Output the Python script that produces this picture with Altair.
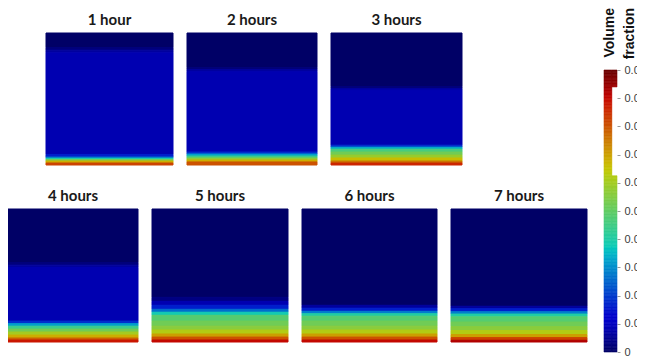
import altair as alt
import numpy as np
import pandas as pd

# ---- data: vertical profiles of volume fraction (height % : 100 = top, 0 = bottom)
titles = ["1 hour", "2 hours", "3 hours", "4 hours", "5 hours", "6 hours", "7 hours"]

edges_1 = [100, 89, 87, 85, 8, 6, 5, 4, 3, 1.5, 0]
vals_1 = [0, 0.0012, 0.003, 0.004, 0.008, 0.014, 0.02, 0.027, 0.034, 0.041]

edges_2 = [100, 73.7, 72.2, 70.7, 9.8, 8.3, 6.8, 5.3, 3.8, 2.3, 0]
vals_2 = [0, 0.0012, 0.003, 0.004, 0.009, 0.016, 0.022, 0.028, 0.034, 0.04]

edges_3 = [100, 59.4, 57.9, 56.8, 15, 13.5, 12, 9.8, 7.5, 5.3, 3, 1.5, 0]
vals_3 = [0, 0.0012, 0.003, 0.004, 0.009, 0.017, 0.023, 0.026, 0.029, 0.033, 0.038, 0.043]

edges_4 = [100, 59.7, 57.8, 56, 15.7, 13.8, 11.9, 9.7, 7.5, 5.2, 3, 1.5, 0]
vals_4 = [0, 0.0012, 0.003, 0.004, 0.009, 0.016, 0.022, 0.026, 0.03, 0.034, 0.039, 0.044]

edges_5 = [100, 33.6, 30.6, 27.6, 24.6, 22.4, 20.1, 15.7, 11.9, 9, 6, 3.7, 1.5, 0]
vals_5 = [0, 0.0015, 0.004, 0.008, 0.013, 0.019, 0.024, 0.026, 0.028, 0.031, 0.035, 0.04, 0.045]

edges_6 = [100, 27.6, 25.4, 23.1, 21.3, 19.4, 15.7, 11.9, 9, 6, 3.7, 1.5, 0]
vals_6 = [0, 0.003, 0.008, 0.014, 0.02, 0.024, 0.026, 0.028, 0.031, 0.035, 0.04, 0.045]

edges_7 = [100, 26.9, 25.0, 22.8, 21.0, 18.9, 15.0, 11.5, 8.6, 5.6, 3.3, 1.3, 0]
vals_7 = [0, 0.003, 0.008, 0.014, 0.02, 0.024, 0.026, 0.028, 0.031, 0.035, 0.041, 0.046]

colorbar_ticks = [0, 0.005, 0.01, 0.015, 0.02, 0.025, 0.03, 0.035, 0.04, 0.045, 0.05]
vmax = 0.05

# ---- jet colormap (matplotlib segment data); panels are shaded (darker) versions
seg_r = ([0, 0.35, 0.66, 0.89, 1], [0, 0, 1, 1, 0.5])
seg_g = ([0, 0.125, 0.375, 0.64, 0.91, 1], [0, 0, 1, 1, 0, 0])
seg_b = ([0, 0.11, 0.34, 0.65, 1], [0.5, 1, 1, 0, 0])
stops = np.linspace(0, 1, 41)


def jet_hex(t, k=1.0):
    r = np.interp(t, *seg_r) * k
    g = np.interp(t, *seg_g) * k
    b = np.interp(t, *seg_b) * k
    return "#%02x%02x%02x" % (int(round(r * 255)), int(round(g * 255)), int(round(b * 255)))


jet_domain = [float(s * vmax) for s in stops]
bar_scale = alt.Scale(domain=jet_domain, range=[jet_hex(s) for s in stops], clamp=True)
shade_scale = alt.Scale(domain=jet_domain, range=[jet_hex(s, 0.8) for s in stops], clamp=True)

profiles = [
    (edges_1, vals_1), (edges_2, vals_2), (edges_3, vals_3), (edges_4, vals_4),
    (edges_5, vals_5), (edges_6, vals_6), (edges_7, vals_7),
]

# inner sizes (a 1px seam-hiding stroke adds 1px to each)
widths = [127, 130, 131, 130, 136, 135, 136]
heights = [132, 132, 132, 133, 133, 133, 133]

TITLE_FONT = "Lato"


def panel(i):
    edges, vals = profiles[i]
    df = pd.DataFrame({
        "top": edges[:-1],
        "bot": edges[1:],
        "v": vals,
        "x0": 0.0,
        "x1": 1.0,
    })
    return alt.Chart(df).mark_rect(strokeWidth=1).encode(
        x=alt.X("x0:Q", scale=alt.Scale(domain=[0, 1], nice=False, zero=False), axis=None),
        x2="x1:Q",
        y=alt.Y("top:Q", scale=alt.Scale(domain=[0, 100], nice=False), axis=None),
        y2="bot:Q",
        color=alt.Color("v:Q", scale=shade_scale, legend=None),
        stroke=alt.Stroke("v:Q", scale=shade_scale, legend=None),
    ).properties(
        width=widths[i], height=heights[i],
        title=alt.TitleParams(titles[i], font=TITLE_FONT, fontSize=15, fontWeight="bold",
                              color="#1a1a1a", offset=5),
    )


spacer = alt.Chart(pd.DataFrame({"a": []})).mark_point(opacity=0).properties(width=25, height=133)

row1 = alt.hconcat(spacer, panel(0), panel(1), panel(2), spacing=12)
row2 = alt.hconcat(panel(3), panel(4), panel(5), panel(6), spacing=12)
left = alt.vconcat(row1, row2, spacing=22)

# ---- colorbar (its y scale leaves room above the bar for the title)
TOP = 25
BAR_PX = 282
CB_PX = 319
step = 0.00025
cb_vals = np.round(np.arange(0, vmax, step), 6)
cb_left = pd.DataFrame({"y0": cb_vals, "y1": cb_vals + step, "x0": 0.0, "x1": 0.6})
cb_right_vals = cb_vals[(cb_vals < 0.0312) | (cb_vals >= 0.0468)]
cb_right = pd.DataFrame({"y0": cb_right_vals, "y1": cb_right_vals + step, "x0": 0.6, "x1": 1.0})
cb_df = pd.concat([cb_left, cb_right], ignore_index=True)

bar = alt.Chart(cb_df).mark_rect(strokeWidth=0.6).encode(
    x=alt.X("x0:Q", scale=alt.Scale(domain=[0, 1], nice=False, zero=False), axis=None),
    x2="x1:Q",
    y=alt.Y("y0:Q", scale=alt.Scale(domain=[0, vmax * CB_PX / BAR_PX], nice=False),
            axis=alt.Axis(orient="right", values=colorbar_ticks, format="~g", title=None,
                          domain=False, grid=False, tickSize=3, tickColor="#999999",
                          labelFont="Liberation Sans", labelFontSize=11, labelColor="#3a3a3a",
                          labelPadding=4)),
    y2="y1:Q",
    color=alt.Color("y0:Q", scale=bar_scale, legend=None),
    stroke=alt.Stroke("y0:Q", scale=bar_scale, legend=None),
)

cb_title = alt.Chart(pd.DataFrame({"t": ["Volume\nfraction"]})).mark_text(
    angle=270, align="right", baseline="top", lineBreak="\n", font="Liberation Sans",
    fontSize=14, fontWeight="bold", lineHeight=20, color="#111111",
).encode(text="t:N", x=alt.value(-1), y=alt.value(-TOP))

colorbar = alt.layer(bar, cb_title).properties(width=13, height=CB_PX)

chart = alt.hconcat(left, colorbar, spacing=15).properties(
    autosize=alt.AutoSizeParams(type="none"),
    padding={"left": 0, "top": TOP, "right": 629, "bottom": 348 - TOP},
).configure_view(strokeWidth=0)

chart.save("out.html", embed_options={"renderer": "svg", "actions": False})
